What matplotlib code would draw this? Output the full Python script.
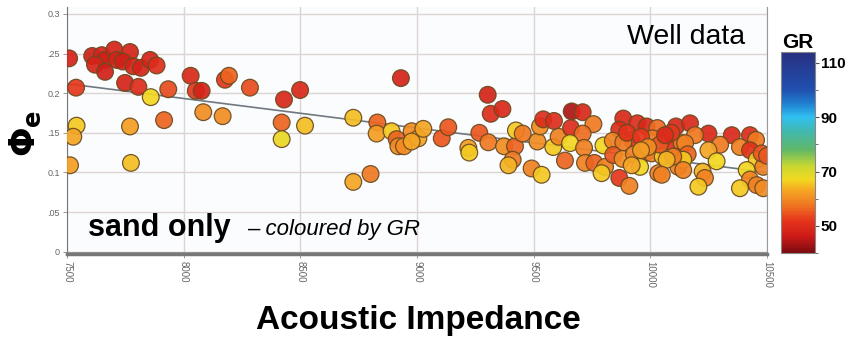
import matplotlib.pyplot as plt
from matplotlib.colors import LinearSegmentedColormap, Normalize
from matplotlib.colorbar import ColorbarBase

plt.rcParams['font.family'] = ['Liberation Sans', 'DejaVu Sans']

# acoustic impedance, effective porosity, gamma ray
ai = [7509, 7608, 7649, 7663, 7620, 7703, 7770, 7713, 7739, 7663, 7784, 7817, 7856, 7884,
      7749, 7806, 7539, 7859, 7934, 8030, 8052, 8077, 8177, 8194, 8284, 8084, 8167, 7916,
      7541, 7527, 7770, 7513, 7774,
      8430, 8499, 8420, 8420, 8520,
      8931, 8727, 8830, 8827, 8891, 8913, 8920, 8944, 8977, 9006, 9027, 8977, 9106, 8727, 8801,
      9134, 9220, 9224, 9267, 9306, 9303, 9316, 9366,
      9373, 9420, 9424, 9453, 9410, 9392, 9491, 9534, 9516, 9527, 9541, 9587, 9584, 9607, 9634,
      9663, 9710, 9756, 9660, 9710, 9656, 9716, 9720, 9760, 9799, 9806, 9791, 9867, 9910,
      9884, 9944, 9984, 10030, 10110, 9867, 9920, 10010, 10067, 10077, 10134, 9839, 9884, 9841,
      9881, 9930, 9974, 10006, 10053, 10106, 9956, 9920, 10034, 10120,
      9900, 9960, 10040, 9990, 10090, 9960,
      10170, 10249, 10191, 10349, 10427, 10453, 10299, 10384, 10427, 10149, 10249, 10160, 10141,
      10284, 10224, 10234, 10206, 10456, 10413, 10427, 10456, 10384, 10484, 10477, 10484, 10063,
      10098, 10070, 10049, 10141, 10500]
phi = [0.244, 0.247, 0.248, 0.242, 0.236, 0.255, 0.252, 0.242, 0.240, 0.227, 0.234, 0.232, 0.242, 0.235,
       0.213, 0.208, 0.207, 0.195, 0.205, 0.222, 0.203, 0.203, 0.217, 0.222, 0.207, 0.176, 0.171, 0.166,
       0.159, 0.145, 0.158, 0.109, 0.112,
       0.192, 0.204, 0.163, 0.142, 0.159,
       0.219, 0.169, 0.163, 0.149, 0.152, 0.142, 0.133, 0.133, 0.152, 0.143, 0.155, 0.139, 0.143, 0.088, 0.098,
       0.157, 0.131, 0.125, 0.150, 0.138, 0.198, 0.174, 0.180,
       0.133, 0.133, 0.153, 0.149, 0.116, 0.109, 0.105, 0.097, 0.139, 0.158, 0.167, 0.165, 0.132, 0.145, 0.115,
       0.177, 0.176, 0.161, 0.156, 0.149, 0.137, 0.131, 0.112, 0.112, 0.134, 0.107, 0.099, 0.093, 0.083,
       0.168, 0.162, 0.158, 0.156, 0.158, 0.154, 0.141, 0.143, 0.145, 0.133, 0.137, 0.140, 0.138, 0.122,
       0.117, 0.123, 0.124, 0.124, 0.120, 0.120, 0.107, 0.109, 0.099, 0.107,
       0.150, 0.145, 0.135, 0.132, 0.150, 0.128,
       0.162, 0.149, 0.147, 0.147, 0.147, 0.141, 0.135, 0.132, 0.128, 0.137, 0.128, 0.123, 0.116,
       0.114, 0.101, 0.093, 0.082, 0.116, 0.103, 0.091, 0.084, 0.080, 0.107, 0.124, 0.080, 0.147,
       0.120, 0.116, 0.097, 0.103, 0.121]
gr = [48, 47, 48, 47, 48, 48, 48, 48, 47, 47, 48, 48, 48, 50,
      48, 50, 52, 67, 54, 49, 52, 48, 52, 56, 54, 60, 60, 56,
      66, 63, 62, 62, 65,
      49, 49, 56, 68, 65,
      48, 65, 56, 62, 66, 56, 60, 60, 60, 63, 63, 63, 55, 63, 58,
      55, 62, 66, 55, 58, 48, 50, 49,
      60, 56, 66, 58, 58, 64, 59, 66, 60, 60, 50, 50, 66, 59, 56,
      44, 49, 58, 50, 57, 67, 59, 59, 56, 67, 59, 66, 52, 59,
      49, 50, 49, 57, 49, 50, 51, 58, 50, 51, 58, 59, 58, 55,
      60, 59, 55, 59, 66, 59, 67, 63, 59, 59,
      51, 52, 55, 60, 52, 62,
      49, 49, 58, 49, 50, 58, 58, 59, 51, 59, 63, 56, 66,
      67, 64, 59, 66, 66, 67, 59, 59, 66, 59, 55, 60, 50,
      58, 64, 59, 59, 55]

# trend line end points
trend_ai = [7500, 10500]
trend_phi = [0.212, 0.100]

gr_stops = [40, 46, 52, 58, 63, 67, 72, 78, 85, 90, 95, 100, 114]
gr_colors = ['#7a0c10', '#cc1a18', '#e6361c', '#f07a22', '#f5a623', '#f2d820', '#c8d830',
             '#60b868', '#40b8b0', '#30c0f0', '#2080d0', '#2050b0', '#283080']
gr_min, gr_max = 40, 114
cmap = LinearSegmentedColormap.from_list(
    'gr', [((v - gr_min) / (gr_max - gr_min), c) for v, c in zip(gr_stops, gr_colors)])
norm = Normalize(gr_min, gr_max)

fig = plt.figure(figsize=(8.48, 3.43), dpi=100)
ax = fig.add_axes([0.079, 0.2595, 0.8255, 0.7205])
ax.set_facecolor('#fbfcfd')

ax.plot(trend_ai, trend_phi, color='#707880', lw=1.2, zorder=2)
ax.scatter(ai, phi, c=gr, cmap=cmap, norm=norm, s=145, edgecolors='#6a4a20',
           linewidths=0.9, alpha=0.92, zorder=3)

ax.set_xlim(7500, 10500)
ax.set_ylim(-0.003, 0.309)
ax.set_xticks([7500, 8000, 8500, 9000, 9500, 10000, 10500])
ax.set_xticklabels(['7500', '8000', '8500', '9000', '9500', '10000', '10500'],
                   rotation=270, fontsize=7, color='#666666')
ax.set_yticks([0, 0.05, 0.1, 0.15, 0.2, 0.25, 0.3])
ax.set_yticklabels(['0', '.05', '0.1', '.15', '0.2', '.25', '0.3'], fontsize=6.5, color='#666666')
ax.tick_params(length=3, width=0.6, color='#888888', pad=2)
ax.grid(True, color='#dcd4d4', lw=1.0)
ax.set_axisbelow(True)
ax.spines['top'].set_visible(False)
ax.spines['left'].set_color('#777777')
ax.spines['right'].set_color('#999999')
ax.spines['bottom'].set_color('#777777')
ax.spines['bottom'].set_linewidth(2.5)
ax.axhline(0, color='#999999', lw=0.8, zorder=1)

ax.text(0.969, 0.88, 'Well data', transform=ax.transAxes, ha='right', va='center', fontsize=20.5)
ax.text(0.03, 0.105, 'sand only', transform=ax.transAxes, ha='left', va='center',
        fontsize=22, fontweight='bold')
ax.text(0.258, 0.1, '\u2013 coloured by GR', transform=ax.transAxes, ha='left', va='center',
        fontsize=16, style='italic')

fig.text(0.493, 0.067, 'Acoustic Impedance', ha='center', va='center', fontsize=24, fontweight='bold')
fig.text(0.03, 0.61, r'$\mathbf{\Phi_e}$', ha='center', va='center', fontsize=25, rotation=90)

cax = fig.add_axes([0.9206, 0.262, 0.0405, 0.587])
cb = ColorbarBase(cax, cmap=cmap, norm=norm)
cb.outline.set_edgecolor('#888888')
cb.set_ticks([50, 70, 90, 110])
cb.set_ticks([40, 60, 80, 100], minor=True)
cax.tick_params(which='major', length=3, labelsize=11, color='#555555', pad=1)
cax.tick_params(which='minor', length=2, color='#555555')
for lbl in cax.get_yticklabels():
    lbl.set_fontweight('bold')
cax.set_title('GR', fontsize=15, fontweight='bold', pad=3)

fig.savefig('out.png', dpi=100)
